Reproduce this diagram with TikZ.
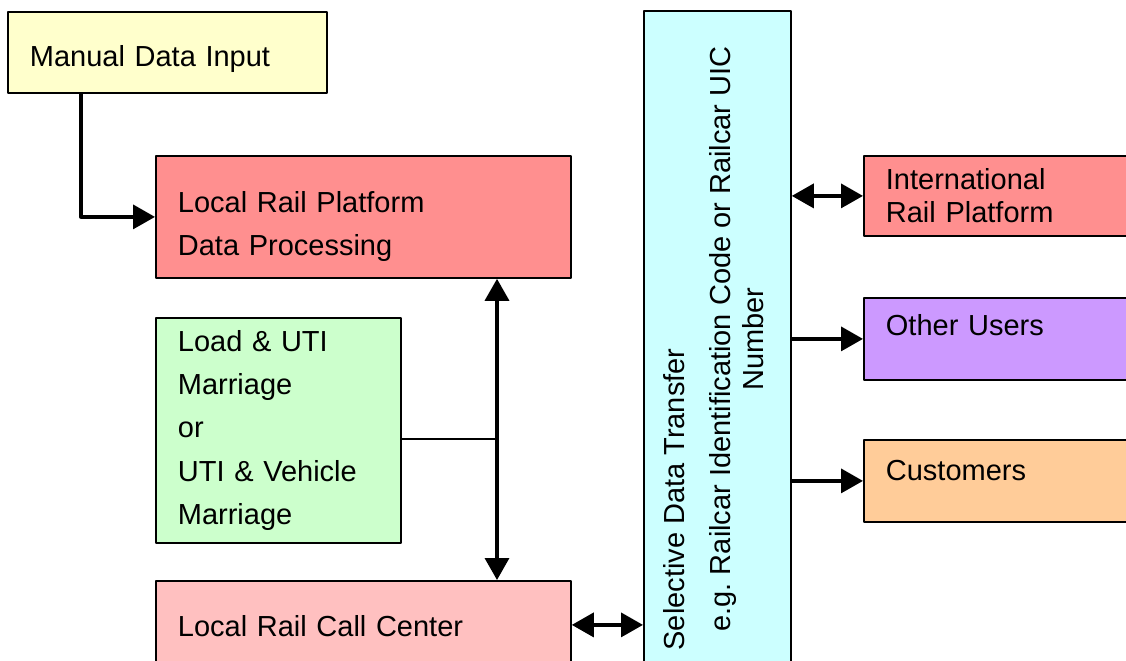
\documentclass[tikz,border=0pt]{standalone}
\usepackage{fontspec}
\setmainfont{Liberation Sans}
\usetikzlibrary{arrows.meta}

\definecolor{inputyellow}{RGB}{255,255,204}
\definecolor{platformred}{RGB}{255,143,143}
\definecolor{callpink}{RGB}{255,192,192}
\definecolor{marriagegreen}{RGB}{204,255,204}
\definecolor{transfercyan}{RGB}{204,255,255}
\definecolor{userpurple}{RGB}{204,153,255}
\definecolor{customerorange}{RGB}{255,204,153}

\begin{document}
\begin{tikzpicture}[line join=round,x=0.5pt,y=-0.5pt,
  >={Triangle[length=11pt,width=12pt]},
  box/.style={draw=black,line width=0.9pt,anchor=north west,align=left,
    inner xsep=11pt,inner ysep=0pt,font=\fontsize{14.5}{21.67}\selectfont},
  link/.style={line width=1.75pt},
  feed/.style={line width=0.7pt}]
\useasboundingbox (0,0) rectangle (1126,660);
\clip (0,0) rectangle (1126,660);

% local side
\node[box,fill=inputyellow,text width=137.5pt,minimum height=40.5pt,
  text height=17.2pt,text depth=3pt] (manual) at (7,11) {Manual Data Input};
\node[box,fill=platformred,text width=185.5pt,minimum height=61pt,
  text depth=14.8pt] (platform) at (155,155) {Local Rail Platform\\Data Processing};
\node[box,fill=marriagegreen,text width=100.5pt,minimum height=112.5pt]
  (marriage) at (155,317) {Load \& UTI\\Marriage\\or\\UTI \& Vehicle\\Marriage};
\node[box,fill=callpink,text width=185.5pt,minimum height=44pt,
  text height=11.7pt] (callcenter) at (155,580) {Local Rail Call Center};

% transfer column
\node[box,fill=transfercyan,inner xsep=0pt,minimum width=73.5pt,minimum height=328pt]
  (transfer) at (643,10) {\rotatebox{90}{\fontsize{14.5}{16.5}\selectfont
  \begin{tabular}{@{}c@{}}
  \multicolumn{1}{@{}l@{}}{\hspace*{-9.5pt}Selective Data Transfer}\\[6.5pt]
  e.g.\ Railcar Identification Code or Railcar UIC\\
  Number
  \end{tabular}}};

% receivers
\node[box,fill=platformred,text width=116.5pt,minimum height=40pt,
  font=\fontsize{14.5}{16.5}\selectfont] (intl) at (863,155) {International\\Rail Platform};
\node[box,fill=userpurple,text width=116.5pt,minimum height=41pt,
  text depth=14pt] (users) at (863,297) {Other Users};
\node[box,fill=customerorange,text width=116.5pt,minimum height=41pt,
  text depth=10.5pt] (customers) at (863,439) {Customers};

% connections
\coordinate (junction) at (497,439);
\draw[link,->] ([xshift=37pt]manual.south west) |- (platform.west);
\draw[link,<->] (platform.south -| junction) -- (callcenter.north -| junction);
\draw[feed] (marriage.east |- junction) -- (junction);
\draw[link,<->] (callcenter.east) -- (callcenter.east -| transfer.west);
\draw[link,<->] (intl.west -| transfer.east) -- (intl.west);
\draw[link,->] (users.west -| transfer.east) -- (users.west);
\draw[link,->] (customers.west -| transfer.east) -- (customers.west);
\end{tikzpicture}
\end{document}
